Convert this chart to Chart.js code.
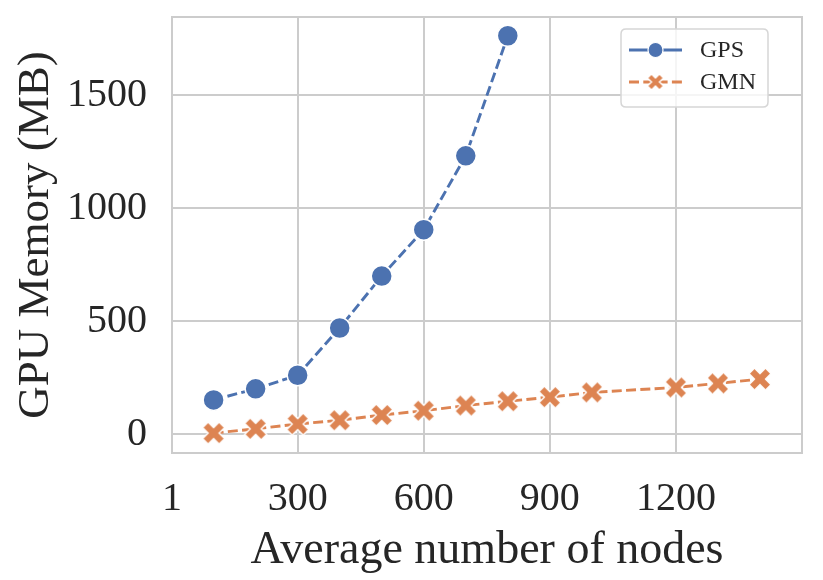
<!DOCTYPE html>
<html><head><meta charset="utf-8">
<script src="https://cdn.jsdelivr.net/npm/chart.js@4.4.0/dist/chart.umd.min.js"></script>
<style>html,body{margin:0;padding:0;background:#fff}#wrap{width:823px;height:580px;position:relative}</style>
</head><body><div id="wrap"><canvas id="c" width="823" height="580"></canvas></div>
<script>
const gpsNodes = [100, 200, 300, 400, 500, 600, 700, 800];
const gpsMemory = [152, 201, 261, 470, 700, 905, 1232, 1763];
const gmnNodes = [100, 200, 300, 400, 500, 600, 700, 800, 900, 1000, 1200, 1300, 1400];
const gmnMemory = [5, 24, 45, 62, 85, 104, 127, 146, 164, 185, 207, 225, 244];
const xTickValues = [1, 300, 600, 900, 1200];
const yTickValues = [0, 500, 1000, 1500];
const seriesNames = ['GPS', 'GMN'];
const xTitle = 'Average number of nodes';
const yTitle = 'GPU Memory (MB)';

const BLUE = '#4c72b0', ORANGE = '#dd8452', GRID = '#cccccc', TEXT = '#262626';
const FONT = "'Liberation Serif', 'Times New Roman', serif";

function xMarker(size, color, edge) {
  const pad = 3, W = Math.ceil(size + pad * 2);
  const c = document.createElement('canvas');
  c.width = W; c.height = W;
  const g = c.getContext('2d');
  const h = W / 2;
  const pts = [[-0.25,-0.5],[0,-0.25],[0.25,-0.5],[0.5,-0.25],[0.25,0],[0.5,0.25],[0.25,0.5],[0,0.25],[-0.25,0.5],[-0.5,0.25],[-0.25,0],[-0.5,-0.25]];
  g.beginPath();
  pts.forEach((p, i) => { const x = h + p[0] * size, y = h + p[1] * size; i ? g.lineTo(x, y) : g.moveTo(x, y); });
  g.closePath();
  g.fillStyle = color; g.fill();
  g.strokeStyle = edge; g.lineWidth = 1.4; g.stroke();
  return c;
}
const xMark = xMarker(22, ORANGE, '#ffffff');
const xMarkSmall = xMarker(16, ORANGE, '#ffffff');

const toPts = (xs, ys) => xs.map((x, i) => ({x: x, y: ys[i]}));

const frame = {
  id: 'frame',
  beforeDatasetsDraw(chart) {
    const {ctx, chartArea: a} = chart;
    ctx.save();
    ctx.strokeStyle = GRID; ctx.lineWidth = 2;
    ctx.strokeRect(a.left, a.top, a.right - a.left, a.bottom - a.top);
    ctx.restore();
  }
};

const legendBox = {
  id: 'legendBox',
  afterDatasetsDraw(chart) {
    const ctx = chart.ctx;
    ctx.save();
    const bx = 621, by = 29, bw = 147, bh = 78, r = 5;
    ctx.beginPath();
    ctx.moveTo(bx + r, by); ctx.lineTo(bx + bw - r, by); ctx.quadraticCurveTo(bx + bw, by, bx + bw, by + r);
    ctx.lineTo(bx + bw, by + bh - r); ctx.quadraticCurveTo(bx + bw, by + bh, bx + bw - r, by + bh);
    ctx.lineTo(bx + r, by + bh); ctx.quadraticCurveTo(bx, by + bh, bx, by + bh - r);
    ctx.lineTo(bx, by + r); ctx.quadraticCurveTo(bx, by, bx + r, by);
    ctx.closePath();
    ctx.fillStyle = 'rgba(255,255,255,0.8)'; ctx.fill();
    ctx.strokeStyle = '#d6d6d6'; ctx.lineWidth = 1.5; ctx.stroke();
    const rows = [50, 82];
    chart.data.datasets.forEach((ds, i) => {
      const y = rows[i];
      ctx.beginPath();
      ctx.setLineDash(i === 0 ? [] : [10, 4.3]);
      ctx.strokeStyle = ds.borderColor; ctx.lineWidth = 2.8;
      ctx.moveTo(629, y); ctx.lineTo(682, y); ctx.stroke();
      ctx.setLineDash([]);
      if (i === 0) {
        ctx.beginPath(); ctx.arc(655.5, y, 7.5, 0, Math.PI * 2);
        ctx.fillStyle = ds.borderColor; ctx.fill();
        ctx.strokeStyle = '#fff'; ctx.lineWidth = 1.2; ctx.stroke();
      } else {
        ctx.drawImage(xMarkSmall, 655.5 - xMarkSmall.width / 2, y - xMarkSmall.height / 2);
      }
      ctx.fillStyle = TEXT;
      ctx.font = '24px ' + FONT;
      ctx.textAlign = 'left'; ctx.textBaseline = 'middle';
      ctx.fillText(ds.label, 700, y + 1);
    });
    ctx.restore();
  }
};

new Chart(document.getElementById('c'), {
  type: 'line',
  data: {
    datasets: [
      { label: seriesNames[0], data: toPts(gpsNodes, gpsMemory), borderColor: BLUE, backgroundColor: BLUE,
        borderWidth: 2.9, borderDash: [10, 4.3], pointRadius: 10.5, pointHoverRadius: 10.5,
        pointBackgroundColor: BLUE, pointBorderColor: '#ffffff', pointBorderWidth: 1.5, fill: false, tension: 0 },
      { label: seriesNames[1], data: toPts(gmnNodes, gmnMemory), borderColor: ORANGE, backgroundColor: ORANGE,
        borderWidth: 2.9, borderDash: [10, 4.3], pointRadius: 10, pointHoverRadius: 10, pointStyle: xMark,
        fill: false, tension: 0 }
    ]
  },
  options: {
    responsive: false, animation: false,
    layout: { padding: { left: 0, right: 21, top: 17, bottom: 0 } },
    plugins: { legend: { display: false }, tooltip: { enabled: false } },
    scales: {
      x: {
        type: 'linear', min: 1, max: 1500,
        afterFit: s => { s.height = 127; s.paddingLeft = 0; s.paddingRight = 0; },
        afterBuildTicks: s => { s.ticks = xTickValues.map(v => ({value: v})); },
        grid: { color: GRID, lineWidth: 2, drawTicks: false },
        border: { display: false },
        ticks: { color: TEXT, font: { family: FONT, size: 40 }, padding: 22, maxRotation: 0, autoSkip: false,
                 callback: v => String(v) },
        title: { display: true, text: xTitle, color: TEXT, font: { family: FONT, size: 46 }, padding: { top: 0, bottom: 1 } }
      },
      y: {
        type: 'linear', min: -83, max: 1846,
        afterFit: s => { s.width = 172; s.paddingTop = 0; s.paddingBottom = 0; },
        afterBuildTicks: s => { s.ticks = yTickValues.map(v => ({value: v})); },
        grid: { color: GRID, lineWidth: 2, drawTicks: false },
        border: { display: false },
        ticks: { color: TEXT, font: { family: FONT, size: 40 }, padding: 25, callback: v => String(v) },
        title: { display: true, text: yTitle, color: TEXT, font: { family: FONT, size: 45 }, padding: { top: 9, bottom: 0 } }
      }
    }
  },
  plugins: [frame, legendBox]
});
</script></body></html>
